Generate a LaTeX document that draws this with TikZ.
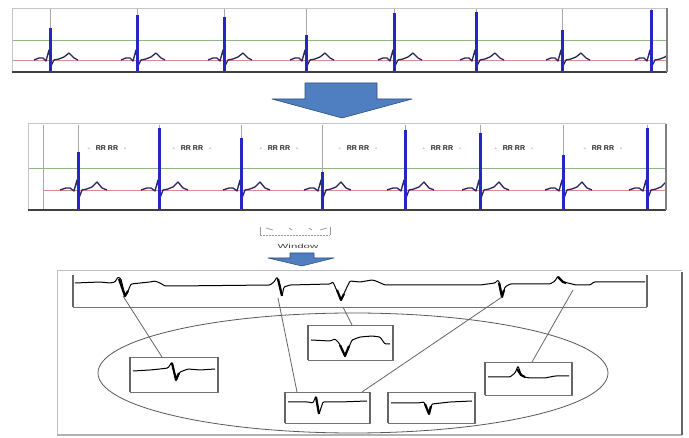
\documentclass[tikz,border=0pt]{standalone}
\usepackage{fontspec}
\setmainfont{Liberation Sans}
\definecolor{ecgblue}{HTML}{2626C4}
\definecolor{tracec}{HTML}{26265E}
\definecolor{gridgreen}{HTML}{8DBA7E}
\definecolor{basered}{HTML}{D98C8C}
\definecolor{gridgray}{HTML}{A8A8A8}
\definecolor{arrowblue}{HTML}{4F7FC0}
\definecolor{arrowedge}{HTML}{2F4F7F}
\begin{document}
\begin{tikzpicture}[x=1pt,y=-1pt,
  frameline/.style={draw=gray!45, line width=0.8pt},
  gridv/.style={draw=gridgray, line width=0.8pt},
  greenline/.style={draw=gridgreen, line width=0.9pt},
  redline/.style={draw=basered, line width=0.9pt},
  traceline/.style={draw=tracec, line width=1.3pt, line join=round},
  spike/.style={draw=ecgblue, line width=3pt},
  stripbottom/.style={draw=black!75, line width=1.5pt},
  blockarrow/.style={fill=arrowblue, draw=arrowedge, line width=0.6pt, line join=round},
  sig/.style={draw=black, line width=1.0pt, line join=round, rounded corners=1pt},
  beatsig/.style={draw=black, line width=2.2pt, line join=round},
  sbox/.style={draw=black!55, line width=0.7pt, rectangle, inner sep=0pt},
  bar/.style={draw=black!60, line width=2pt},
  conn/.style={draw=black!60, line width=0.8pt},
  rrlabel/.style={font=\fontsize{7}{8}\selectfont\bfseries, text=black!85, inner sep=1pt}
]
\useasboundingbox (0,0) rectangle (689,438);
\fill[white] (0,0) rectangle (689,438);

% ---------------- top strip ----------------
\begin{scope}
\clip (12,8) rectangle (667,73);
\draw[greenline] (12,40) -- (667,40);
\draw[redline] (12,60) -- (667,60);
\foreach \x in {50,137,224,306,394,476,562,651}
  \draw[gridv] (\x,8) -- (\x,72);
\foreach \x/\t in {50/28,137/15,224/17,306/35,394/13,476/12,562/30,651/10} {
  \draw[traceline] ({\x-16},60) -- ({\x-11},58) -- ({\x-7},58) -- ({\x-4},61)
     -- ({\x-1},50) -- ({\x+1},66) -- ({\x+4},60) -- ({\x+9},59) -- ({\x+14},57)
     -- ({\x+19},53) -- ({\x+24},58) -- ({\x+28},60);
  \draw[spike] (\x,\t) -- (\x,72);
}
\end{scope}
\draw[frameline] (12,72) -- (12,8) -- (667,8);
\draw[stripbottom] (12,72) -- (667,72);
\draw[draw=gray, line width=2pt] (667,8) -- (667,72);

% ---------------- big block arrow ----------------
\draw[blockarrow] (305,83) -- (377,83) -- (377,99) -- (412,99) -- (342,118)
  -- (272,99) -- (305,99) -- cycle;

% ---------------- second strip ----------------
\begin{scope}
\clip (28,123) rectangle (666,211);
\draw[greenline] (28,168) -- (666,168);
\draw[redline] (43,190) -- (666,190);
\foreach \x in {78,159,241,322,405,480,563,647}
  \draw[gridv] (\x,125) -- (\x,210);
\foreach \x/\t in {78/152,159/128,241/138,322/172,405/130,480/133,563/155,647/128} {
  \draw[traceline] ({\x-18},190) -- ({\x-12},188) -- ({\x-8},188) -- ({\x-4},191)
     -- ({\x-1},180) -- ({\x+1},198) -- ({\x+4},190) -- ({\x+9},189) -- ({\x+14},187)
     -- ({\x+19},182) -- ({\x+24},188) -- ({\x+29},190);
  \draw[spike] (\x,\t) -- (\x,210);
}
\end{scope}
\draw[frameline] (28,210) -- (28,123) -- (666,123);
\draw[gridv] (43,125) -- (43,210);
\draw[stripbottom] (28,210) -- (666,210);
\draw[draw=gray, line width=2.4pt] (666,124) -- (666,210);
\foreach \x [count=\i] in {107,192,279,358,442,514,603}
  \node[rrlabel] (rr\i) at (\x,148)
    {\textcolor{gray!70}{-}\hspace{6pt}RR RR\hspace{6pt}\textcolor{gray!70}{-}};

% ---------------- window marker ----------------
\draw[draw=gray!80, line width=0.7pt] (260,227) -- (260,235) (330,227) -- (330,235);
\draw[draw=gray!80, line width=0.7pt, dash pattern=on 2pt off 1pt] (260,235) -- (330,235);
\draw[draw=gray!80, line width=0.7pt] (266,228) -- (273,230) (289,228) -- (292,230)
  (309,228) -- (312,230) (320,230) -- (327,228);
\node[font=\fontsize{6}{7}\selectfont, text=black!75, inner sep=0pt] (win) at (298,246)
  {\scalebox{1.9}[1]{Window}};
\draw[blockarrow] (290,253) -- (314,253) -- (314,258) -- (334,258) -- (302,266)
  -- (268,258) -- (290,258) -- cycle;

% ---------------- bottom panel ----------------
\draw[draw=gray!50, line width=0.9pt] (57,435) -- (57,270) -- (682,270);
\draw[draw=gray!60, line width=1.2pt] (57,435) -- (682,435);
\draw[draw=gray!80!black, line width=2pt] (682,272) -- (682,435);

% long strip
\draw[draw=black!55, line width=0.8pt] (73,307) -- (647,307);
\draw[bar] (73,275) -- (73,307) (647,275) -- (647,307);
\draw[sig] (75,283) -- (100,282) -- (110,283) -- (115,282) -- (118,277) -- (121,279)
  -- (125,296) -- (128,291) -- (131,284) -- (140,283) -- (150,282) -- (155,281)
  -- (160,283) -- (165,286) -- (175,286) -- (270,285) -- (274,282) -- (277,277)
  -- (280,285) -- (282,296) -- (284,287) -- (290,285) -- (330,284) -- (333,282)
  -- (341,300) -- (347,287) -- (350,281) -- (360,282) -- (372,280) -- (376,281)
  -- (385,285) -- (480,285) -- (495,283) -- (498,280) -- (500,284) -- (502,297)
  -- (505,287) -- (510,284) -- (550,284) -- (555,281) -- (558,276) -- (563,282)
  -- (568,283) -- (576,285) -- (590,285) -- (594,282) -- (645,282);
\draw[beatsig] (119,279) -- (125,296) -- (128,291);
\draw[beatsig] (278,279) -- (282,296);
\draw[beatsig] (337,290) -- (341,300) -- (344,294);
\draw[beatsig] (499,283) -- (502,297) -- (504,290);
\draw[beatsig] (558,277) -- (563,282) -- (566,283);

% ellipse
\draw[draw=black!65, line width=0.8pt] (353,373) ellipse [x radius=255pt, y radius=60pt];

% small boxes
\node[sbox, minimum width=88pt, minimum height=35pt] (bA) at (174,374.5) {};
\node[sbox, minimum width=85pt, minimum height=35pt] (bB) at (350.5,342.5) {};
\node[sbox, minimum width=85pt, minimum height=31pt] (bC) at (327.5,407.5) {};
\node[sbox, minimum width=87pt, minimum height=31pt] (bD) at (431.5,407.5) {};
\node[sbox, minimum width=87pt, minimum height=33pt] (bE) at (528.5,378.5) {};
\foreach \b in {bA,bB,bC,bD,bE}
  \draw[bar] (\b.north west) -- (\b.south west) (\b.north east) -- (\b.south east);

\draw[sig] (133,371) -- (150,370) -- (160,369) -- (168,368) -- (172,362) -- (176,380)
  -- (180,372) -- (188,369) -- (200,370) -- (215,369);
\draw[beatsig] (172,363) -- (176,380) -- (179,373);
\draw[sig] (311,340) -- (330,341) -- (335,339) -- (339,343) -- (345,356) -- (352,340)
  -- (360,337) -- (372,336) -- (380,337) -- (385,344) -- (390,344);
\draw[beatsig] (340,345) -- (345,356) -- (349,346);
\draw[sig] (288,402) -- (308,402) -- (313,403) -- (316,396) -- (319,414) -- (323,402)
  -- (340,402) -- (367,401);
\draw[beatsig] (316,397) -- (319,414);
\draw[sig] (391,403) -- (418,403) -- (424,402) -- (429,414) -- (432,404) -- (450,402)
  -- (472,401);
\draw[beatsig] (425,404) -- (429,414) -- (431,406);
\draw[sig] (488,377) -- (510,377) -- (515,373) -- (518,366) -- (521,374) -- (524,377)
  -- (530,378) -- (545,378) -- (555,376) -- (569,376);
\draw[beatsig] (517,369) -- (521,375) -- (525,377);

% connectors
\coordinate (p1) at (123,296);
\coordinate (p2) at (278,298);
\coordinate (p3) at (343,307);
\coordinate (p4) at (502,297);
\coordinate (p5) at (573,290);
\coordinate (q1) at (162,357);
\coordinate (q2) at (297,392);
\coordinate (q3) at (352,325);
\coordinate (q4) at (362,392);
\coordinate (q5) at (532,362);
\draw[conn] (p1) -- (q1);
\draw[conn] (p2) -- (q2);
\draw[conn] (p3) -- (q3);
\draw[conn] (p4) -- (q4);
\draw[conn] (p5) -- (q5);
\end{tikzpicture}
\end{document}
